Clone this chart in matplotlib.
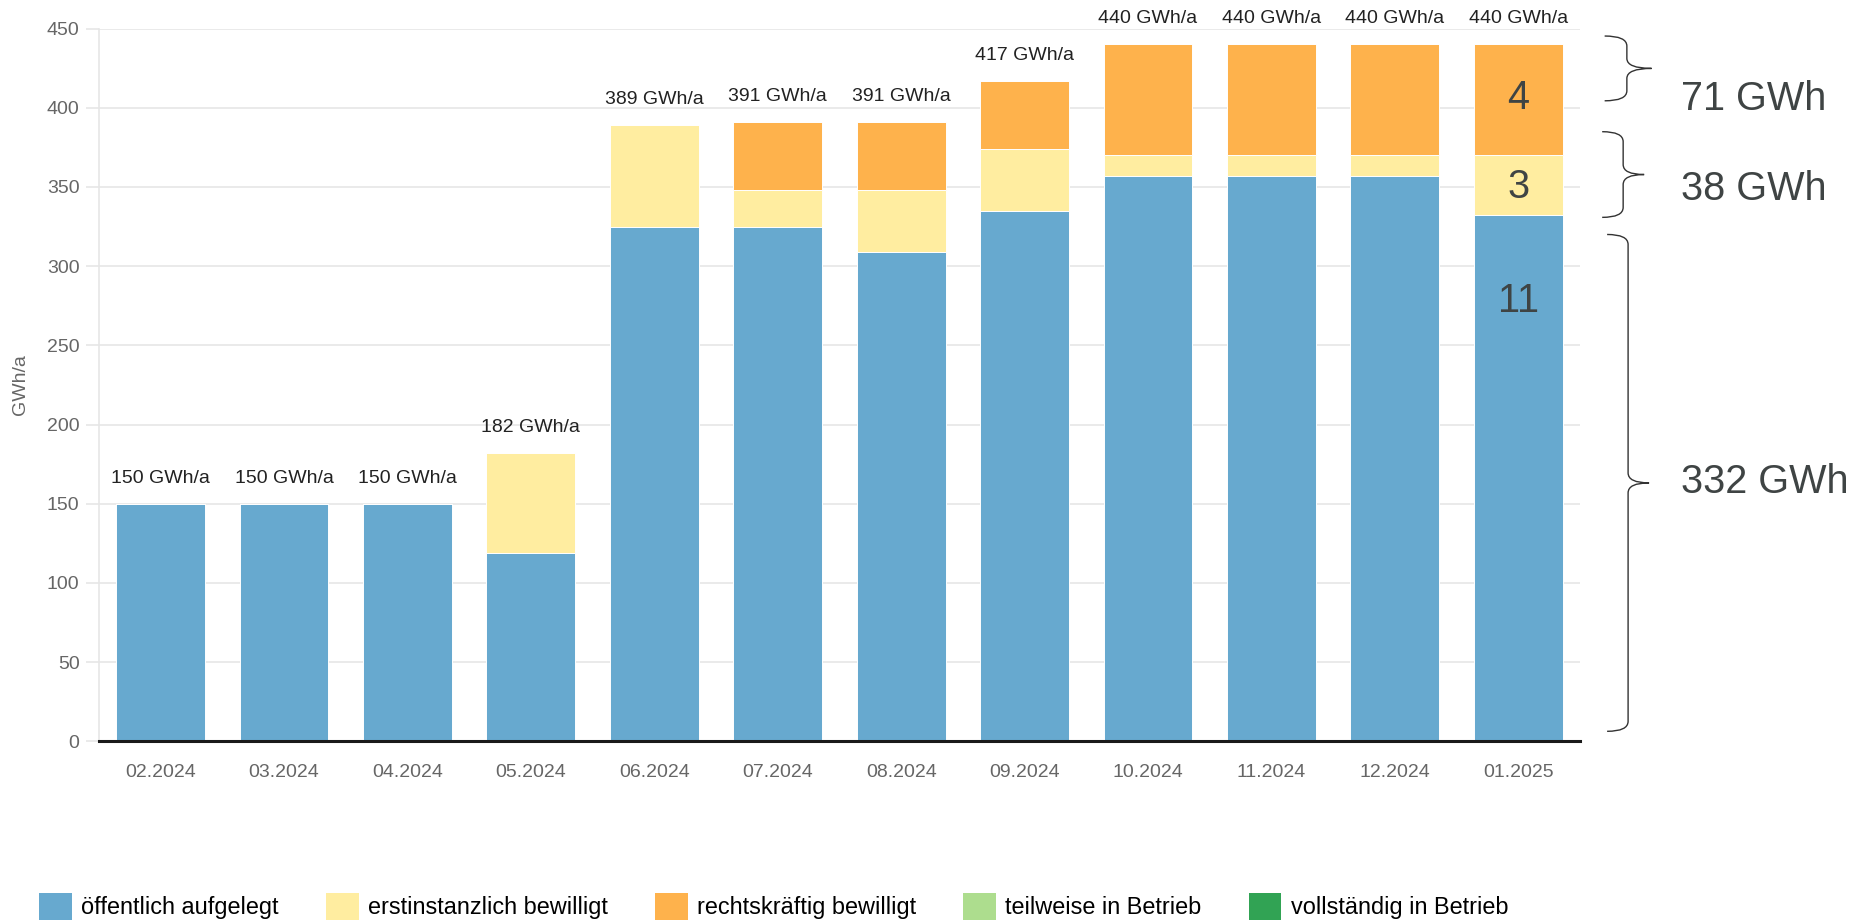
import matplotlib.pyplot as plt
from matplotlib.patches import Patch, PathPatch
from matplotlib.path import Path

plt.rcParams['font.family'] = ['Liberation Sans', 'DejaVu Sans']

# data (GWh/a per status and month)
months = ['02.2024', '03.2024', '04.2024', '05.2024', '06.2024', '07.2024',
          '08.2024', '09.2024', '10.2024', '11.2024', '12.2024', '01.2025']
oeffentlich = [150, 150, 150, 119, 325, 325, 309, 335, 357, 357, 357, 332]
erstinstanz = [0, 0, 0, 63, 64, 23, 39, 39, 13, 13, 13, 38]
rechtskraeftig = [0, 0, 0, 0, 0, 43, 43, 43, 70, 70, 70, 70]
teilweise = [0] * 12
vollstaendig = [0] * 12

series_names = ['öffentlich aufgelegt', 'erstinstanzlich bewilligt', 'rechtskräftig bewilligt',
                'teilweise in Betrieb', 'vollständig in Betrieb']
colors = ['#67a9cf', '#ffeda0', '#feb24c', '#addd8e', '#31a354']

# annotations for the last month (counts and brace groups)
count_labels = ['11', '3', '4']
count_y = [278, 350, 406]
brace_ranges = [(404.4, 445.3), (330.8, 384.9), (6.3, 320.0)]
brace_labels = ['71 GWh', '38 GWh', '332 GWh']
brace_label_y = [405.6, 348.4, 163.5]

fig = plt.figure(figsize=(18.7, 9.22), dpi=100)
ax = fig.add_axes([0.0529, 0.196, 0.7920, 0.773])

x = list(range(len(months)))
bottom = [0] * len(months)
for vals, col, name in zip([oeffentlich, erstinstanz, rechtskraeftig, teilweise, vollstaendig],
                           colors, series_names):
    ax.bar(x, vals, width=0.72, bottom=bottom, color=col, edgecolor='white',
           linewidth=0.7, label=name, zorder=2)
    bottom = [b + v for b, v in zip(bottom, vals)]

# totals above bars
for xi, tot in zip(x, bottom):
    ax.annotate(f'{tot:.0f} GWh/a', (xi, tot), xytext=(0, 18.5), textcoords='offset points',
                ha='center', va='center', fontsize=14, color='#222222')

ax.set_xlim(-0.5, 11.5)
ax.set_ylim(0, 450)
ax.set_yticks(range(0, 451, 50))
ax.set_xticks(x)
ax.set_xticklabels(months)
ax.yaxis.grid(True, color='#e6e6e6', linewidth=1.2)
ax.set_axisbelow(True)

for s in ['top', 'right']:
    ax.spines[s].set_visible(False)
ax.spines['left'].set_color('#e6e6e6')
ax.spines['left'].set_linewidth(1.2)
ax.spines['bottom'].set_color('#1a1a1a')
ax.spines['bottom'].set_linewidth(2.2)
ax.spines['bottom'].set_zorder(3)

ax.tick_params(axis='y', length=9.4, color='#e6e6e6', width=1.2, labelcolor='#666666',
               labelsize=14, pad=4.5)
ax.tick_params(axis='x', length=0, labelcolor='#666666', labelsize=14, pad=16.5)

ax.set_ylabel('GWh/a', fontsize=14, color='#666666')
ax.yaxis.set_label_coords(-0.047, 0.5)

# numbers inside the last bar
for lab, yv in zip(count_labels, count_y):
    ax.text(x[-1], yv, lab, ha='center', va='center', fontsize=28.5, color='#3f4444')


def draw_brace(ax, x0, xv, xt, y0, y1, r=6.3):
    ym = (y0 + y1) / 2
    verts = [(x0, y1), (xv, y1), (xv, y1 - r), (xv, ym + r), (xv, ym), (xt, ym),
             (xv, ym), (xv, ym - r), (xv, y0 + r), (xv, y0), (x0, y0)]
    codes = [Path.MOVETO, Path.CURVE3, Path.CURVE3, Path.LINETO, Path.CURVE3, Path.CURVE3,
             Path.CURVE3, Path.CURVE3, Path.LINETO, Path.CURVE3, Path.CURVE3]
    ax.add_patch(PathPatch(Path(verts, codes), fill=False, edgecolor='#333333',
                           linewidth=1.0, clip_on=False))


brace_x = [(11.70, 11.88, 12.08), (11.68, 11.85, 12.02), (11.72, 11.89, 12.06)]
for (y0, y1), (x0, xv, xt), lab, ly in zip(brace_ranges, brace_x, brace_labels, brace_label_y):
    draw_brace(ax, x0, xv, xt, y0, y1)
    ax.text(12.32, ly, lab, ha='left', va='center', fontsize=28.5, color='#3f4444',
            clip_on=False)

handles = [Patch(facecolor=c, edgecolor='none') for c in colors]
fig.legend(handles, series_names, loc='center left', bbox_to_anchor=(39 / 1870, 0.017),
           ncol=5, frameon=False, borderpad=0, borderaxespad=0, handlelength=1.4,
           handleheight=1.4, handletextpad=0.4, columnspacing=2.0, fontsize=16.9)

plt.savefig('out.png', dpi=100)
